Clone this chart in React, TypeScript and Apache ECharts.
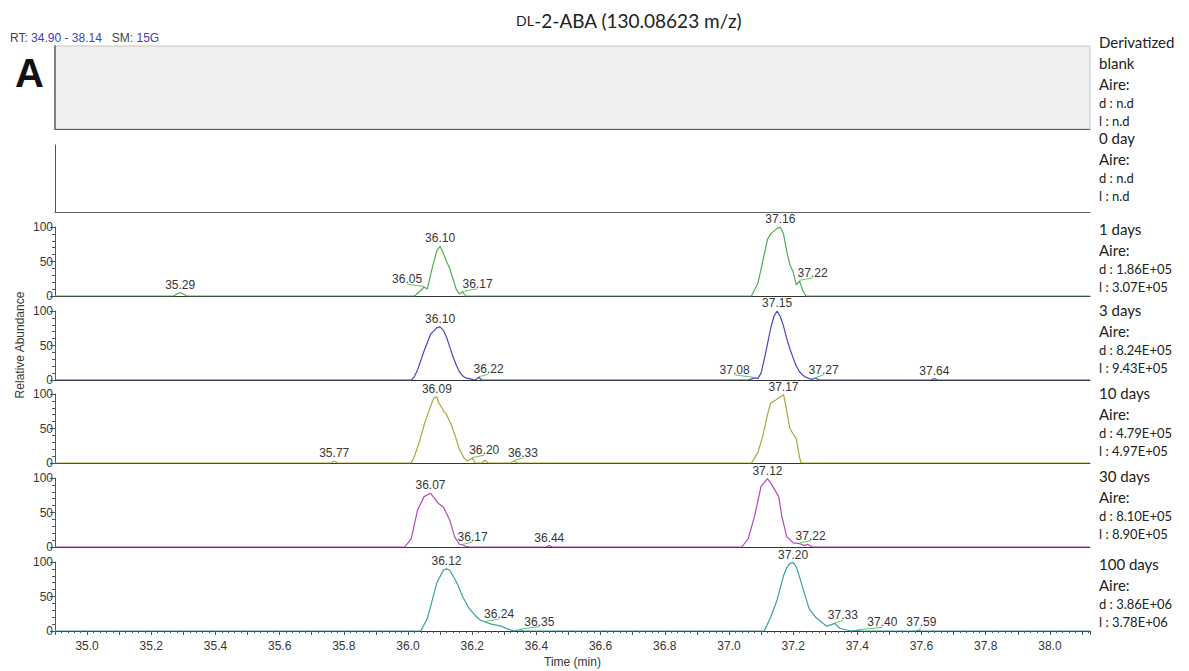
import React, { useEffect, useRef } from "react";
import * as echarts from "echarts";

// ---------------- DATA ----------------
const X_MIN = 34.9;
const X_MAX = 38.125;

const panelNames = ["Derivatized\nblank", "0 day", "1 days", "3 days", "10 days", "30 days", "100 days"];
const areaD = ["n.d", "n.d", "1.86E+05", "8.24E+05", "4.79E+05", "8.10E+05", "3.86E+06"];
const areaL = ["n.d", "n.d", "3.07E+05", "9.43E+05", "4.97E+05", "8.90E+05", "3.78E+06"];

// [time (min), relative abundance]
const trace1days = [
  [34.9, 0], [35.27, 0], [35.28, 3], [35.29, 5], [35.30, 3], [35.31, 0],
  [36.02, 0], [36.04, 8], [36.05, 13], [36.06, 10], [36.075, 40], [36.09, 66], [36.10, 72], [36.11, 62],
  [36.12, 50], [36.13, 40], [36.14, 25], [36.15, 10], [36.16, 3], [36.17, 6], [36.18, 0],
  [37.07, 0], [37.09, 18], [37.11, 60], [37.12, 82], [37.13, 90], [37.15, 98], [37.16, 100], [37.17, 90],
  [37.18, 65], [37.19, 45], [37.20, 35], [37.21, 16], [37.22, 22], [37.23, 8], [37.24, 0], [38.125, 0],
];
const trace3days = [
  [34.9, 0], [36.01, 0], [36.02, 5], [36.03, 15], [36.05, 42], [36.07, 66], [36.09, 76], [36.10, 77],
  [36.11, 72], [36.12, 62], [36.13, 48], [36.14, 34], [36.15, 22], [36.16, 12], [36.17, 6], [36.18, 3],
  [36.20, 1], [36.21, 0], [36.22, 4], [36.23, 0],
  [37.06, 0], [37.08, 3], [37.09, 2], [37.10, 10], [37.11, 30], [37.12, 52], [37.13, 75], [37.14, 92],
  [37.15, 100], [37.16, 92], [37.17, 78], [37.18, 60], [37.19, 45], [37.20, 32], [37.21, 20], [37.22, 12],
  [37.23, 7], [37.24, 4], [37.25, 2], [37.26, 1], [37.27, 3], [37.28, 0],
  [37.63, 0], [37.64, 2], [37.65, 0], [38.125, 0],
];
const trace10days = [
  [34.9, 0], [35.76, 0], [35.77, 3], [35.78, 0],
  [36.01, 0], [36.02, 10], [36.035, 30], [36.05, 55], [36.07, 82], [36.08, 94], [36.09, 96], [36.095, 88],
  [36.11, 76], [36.12, 70], [36.135, 55], [36.15, 35], [36.16, 20], [36.175, 7], [36.185, 3], [36.20, 7],
  [36.21, 0], [36.23, 0], [36.24, 4], [36.25, 0], [36.32, 0], [36.33, 3], [36.34, 0],
  [37.07, 0], [37.09, 15], [37.105, 38], [37.12, 70], [37.13, 87], [37.145, 91], [37.16, 96], [37.17, 99],
  [37.175, 88], [37.19, 50], [37.20, 42], [37.21, 35], [37.22, 8], [37.225, 0], [38.125, 0],
];
const trace30days = [
  [34.9, 0], [35.99, 0], [36.01, 12], [36.03, 54], [36.05, 73], [36.07, 78], [36.08, 72], [36.095, 63],
  [36.11, 58], [36.13, 39], [36.145, 15], [36.16, 4], [36.17, 3], [36.18, 1], [36.19, 0],
  [36.43, 0], [36.44, 2], [36.45, 0],
  [37.04, 0], [37.06, 12], [37.08, 45], [37.10, 88], [37.12, 99], [37.13, 93], [37.155, 73], [37.165, 44],
  [37.18, 15], [37.20, 6], [37.22, 5], [37.235, 2], [37.245, 4], [37.26, 0], [38.125, 0],
];
const trace100days = [
  [34.9, 0], [36.04, 0], [36.06, 18], [36.07, 35], [36.09, 70], [36.11, 88], [36.12, 90], [36.13, 88],
  [36.145, 76], [36.155, 67], [36.17, 50], [36.19, 33], [36.21, 22], [36.225, 16], [36.24, 13], [36.26, 10],
  [36.29, 7], [36.31, 3], [36.33, 0], [36.35, 2], [36.36, 0],
  [37.11, 0], [37.13, 20], [37.15, 45], [37.17, 80], [37.18, 92], [37.19, 98], [37.20, 99], [37.21, 93],
  [37.22, 78], [37.235, 55], [37.25, 32], [37.27, 20], [37.28, 16], [37.305, 7], [37.33, 11], [37.345, 4],
  [37.38, 0], [37.40, 1], [37.41, 0], [37.58, 0], [37.59, 1], [37.60, 0], [38.125, 0],
];

const peaks1days = [35.29, 36.05, 36.10, 36.17, 37.16, 37.22];
const peaks3days = [36.10, 36.22, 37.08, 37.15, 37.27, 37.64];
const peaks10days = [35.77, 36.09, 36.20, 36.33, 37.17];
const peaks30days = [36.07, 36.17, 36.44, 37.12, 37.22];
const peaks100days = [36.12, 36.24, 36.35, 37.20, 37.33, 37.40, 37.59];

// ---------------- STYLE / LAYOUT ----------------
const traces = [null, null, trace1days, trace3days, trace10days, trace30days, trace100days];
const peakLists = [null, null, peaks1days, peaks3days, peaks10days, peaks30days, peaks100days];
const colors = [null, null, "#4caf50", "#4646c6", "#a9a83a", "#b04ab8", "#3a9fa6"];
// horizontal label shift (px) for minor peaks that carry a leader line
const labelShift: Record<string, number>[] = [
  {}, {},
  { "36.05": -17, "36.17": 15, "37.22": 13 },
  { "36.22": 10, "37.08": -20, "37.27": 8 },
  { "36.20": 12, "36.33": 9 },
  { "36.17": 10, "37.22": 11 },
  { "36.24": 14, "36.35": 19, "37.33": 8, "37.40": 25, "37.59": 3 },
];

const GRID_LEFT = 55;
const GRID_WIDTH = 1035;
const GRID_TOPS = [46, 145, 227, 311, 394, 478, 562];
const GRID_HEIGHTS = [83, 67, 69, 69, 69, 69, 69];
const LABEL_TOPS = [42, 138, 229, 310, 393, 476, 564];

const AX_FONT = "Liberation Sans, Arial, sans-serif";
const RIGHT_FONT = "Lato, sans-serif";
const TXT = "#363636";

function heightAt(trace: number[][], t: number) {
  const p = trace.find((d) => Math.abs(d[0] - t) < 1e-6);
  return p ? p[1] : 0;
}

function buildOption() {
  const grid: any[] = [];
  const xAxis: any[] = [];
  const yAxis: any[] = [];
  const series: any[] = [];

  for (let i = 0; i < 7; i++) {
    grid.push({
      left: GRID_LEFT,
      width: GRID_WIDTH,
      top: GRID_TOPS[i],
      height: GRID_HEIGHTS[i],
      show: i === 0,
      backgroundColor: "#f0f0f0",
      borderColor: "#c4c4c4",
      borderWidth: 1,
    });
    const isBottom = i === 6;
    xAxis.push({
      type: "value",
      gridIndex: i,
      min: X_MIN,
      max: X_MAX,
      interval: 0.1,
      axisLine: { show: true, onZero: false, lineStyle: { color: i < 2 ? "#606060" : "#333", width: 1 } },
      axisTick: { show: isBottom, length: 4, lineStyle: { color: "#555" } },
      minorTick: { show: isBottom, splitNumber: 5, length: 2, lineStyle: { color: "#555" } },
      axisLabel: {
        show: isBottom,
        fontFamily: AX_FONT,
        fontSize: 12,
        color: TXT,
        margin: 9,
        formatter: (v: number) => (Math.round(v * 10) % 2 === 0 ? v.toFixed(1) : ""),
        showMinLabel: false,
        showMaxLabel: false,
      },
      splitLine: { show: false },
      name: isBottom ? "Time (min)" : "",
      nameLocation: "middle",
      nameGap: 25,
      nameTextStyle: { fontFamily: AX_FONT, fontSize: 12, color: TXT },
    });
    const hasScale = i >= 2;
    yAxis.push({
      type: "value",
      gridIndex: i,
      min: 0,
      max: 100,
      interval: 50,
      axisLine: { show: true, lineStyle: { color: i === 0 ? "#808080" : "#555", width: i === 0 ? 2 : 1 } },
      axisTick: { show: hasScale, length: 5, lineStyle: { color: "#555" } },
      minorTick: { show: hasScale, splitNumber: 5, length: 3, lineStyle: { color: "#555" } },
      axisLabel: { show: hasScale, fontFamily: AX_FONT, fontSize: 12, color: TXT, margin: 2 },
      splitLine: { show: false },
    });

    const tr = traces[i];
    if (tr) {
      const pk = peakLists[i] as number[];
      series.push({
        type: "line",
        xAxisIndex: i,
        yAxisIndex: i,
        data: tr,
        showSymbol: false,
        symbol: "none",
        lineStyle: { color: colors[i], width: 1.2 },
        itemStyle: { color: colors[i] },
        silent: true,
        z: 3,
        markPoint: {
          symbol: "circle",
          symbolSize: 0,
          silent: true,
          label: {
            show: true,
            position: "top",
            distance: 2,
            formatter: "{b}",
            fontFamily: AX_FONT,
            fontSize: 12,
            color: TXT,
          },
          data: pk.map((t) => {
            const key = t.toFixed(2);
            const dx = labelShift[i][key] || 0;
            return {
              name: key,
              coord: [t, heightAt(tr, t)],
              label: { offset: [dx, 0] },
            };
          }),
        },
      });
    }
  }

  const graphic: any[] = [
    {
      type: "text",
      x: 629,
      y: 20,
      style: {
        text: "{sc|DL}{n|-2-ABA (130.08623 m/z)}",
        align: "center",
        verticalAlign: "middle",
        rich: {
          sc: { fontFamily: RIGHT_FONT, fontSize: 14, fill: "#222" },
          n: { fontFamily: RIGHT_FONT, fontSize: 19, fill: "#222" },
        },
      },
    },
    {
      type: "text",
      x: 10,
      y: 38,
      style: {
        text: "{g|RT:} {b|34.90 - 38.14}   {g|SM:} {b|15G}",
        verticalAlign: "middle",
        rich: {
          g: { fontFamily: AX_FONT, fontSize: 12, fill: "#444" },
          b: { fontFamily: AX_FONT, fontSize: 12, fill: "#4040b8" },
        },
      },
    },
    {
      type: "text",
      x: 15,
      y: 73,
      style: { text: "A", font: "bold 40px " + AX_FONT, fill: "#111", verticalAlign: "middle" },
    },
    {
      type: "text",
      x: 20,
      y: 345,
      rotation: Math.PI / 2,
      style: {
        text: "Relative Abundance",
        font: "12px " + AX_FONT,
        fill: TXT,
        align: "center",
        verticalAlign: "middle",
      },
    },
  ];

  for (let i = 0; i < 7; i++) {
    const lines = panelNames[i].split("\n");
    let y = LABEL_TOPS[i];
    lines.forEach((ln, k) => {
      if (k > 0) y += 21;
      graphic.push({
        type: "text",
        x: 1099,
        y,
        style: { text: ln, font: "15px " + RIGHT_FONT, fill: "#222", verticalAlign: "middle" },
      });
    });
    y += 21;
    graphic.push({
      type: "text",
      x: 1099,
      y,
      style: { text: "Aire:", font: "15px " + RIGHT_FONT, fill: "#222", verticalAlign: "middle" },
    });
    y += 19;
    graphic.push({
      type: "text",
      x: 1099,
      y,
      style: { text: "d : " + areaD[i], font: "13px " + RIGHT_FONT, fill: "#222", verticalAlign: "middle" },
    });
    y += 18;
    graphic.push({
      type: "text",
      x: 1099,
      y,
      style: { text: "l : " + areaL[i], font: "13px " + RIGHT_FONT, fill: "#222", verticalAlign: "middle" },
    });
  }

  return {
    animation: false,
    backgroundColor: "#ffffff",
    grid,
    xAxis,
    yAxis,
    series,
    graphic,
  };
}

export default function App() {
  const ref = useRef<HTMLDivElement>(null);
  useEffect(() => {
    if (!ref.current) return;
    const chart = echarts.init(ref.current, undefined, { renderer: "svg" });
    const option: any = buildOption();
    chart.setOption(option);

    // leader lines for shifted minor-peak labels, placed through the axes' scales
    const leaders: any[] = [];
    for (let i = 2; i < 7; i++) {
      const tr = traces[i] as number[][];
      (peakLists[i] as number[]).forEach((t) => {
        const dx = labelShift[i][t.toFixed(2)];
        if (!dx) return;
        const p = chart.convertToPixel({ gridIndex: i }, [t, heightAt(tr, t)]) as number[];
        leaders.push({
          type: "line",
          silent: true,
          z: 10,
          shape: { x1: p[0], y1: p[1] - 0.5, x2: p[0] + dx, y2: p[1] - 3 },
          style: { stroke: "#66c766", lineWidth: 1 },
        });
      });
    }
    chart.setOption({ graphic: option.graphic.concat(leaders) });

    return () => chart.dispose();
  }, []);
  return <div ref={ref} style={{ position: "absolute", left: 0, top: 0, width: 1189, height: 671 }} />;
}
